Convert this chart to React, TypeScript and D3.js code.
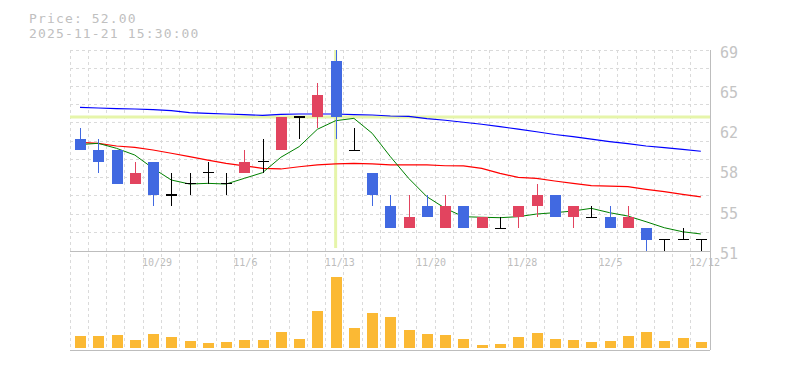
import React from "react";
import * as d3 from "d3";

const dates = [
  "10/23","10/24","10/27","10/28","10/29","10/30","10/31","11/4","11/5","11/6",
  "11/7","11/10","11/11","11/12","11/13","11/14","11/17","11/18","11/19","11/20",
  "11/21","11/25","11/26","11/27","11/28","12/1","12/2","12/3","12/4","12/5",
  "12/8","12/9","12/10","12/11","12/12",
];
const opens  = [61,60,60,57,59,56,57,58,57,58,59,60,63,63,68,60,58,55,53,55,53,55,53,53,54,55,56,54,54,54,53,53,52,52,52];
const highs  = [62,61,60,59,59,58,58,59,58,60,61,63,63,66,69,62,58,56,56,56,56,55,54,54,55,57,56,55,55,55,55,53,52,53,52];
const lows   = [60,58,57,57,55,55,56,57,56,58,58,60,61,62,61,60,55,53,53,54,53,53,53,53,53,54,54,53,54,53,53,51,51,52,51];
const closes = [60,59,57,58,56,56,57,58,57,59,59,63,63,65,63,60,56,53,54,54,55,53,54,53,55,56,54,55,54,53,54,52,52,52,52];
const volumes = [12,12,13,8,14,11,7,5,6,8,8,16,9,37,71,20,35,31,18,14,13,9,3,4,11,15,9,8,6,7,12,16,7,10,6];

const ma5 = [60.52,60.63,60.18,59.58,58.39,57.34,56.98,57.04,56.98,57.49,58.0,59.38,60.33,61.89,62.66,62.87,61.53,59.43,57.49,55.84,54.8,54.05,54.0,53.96,54.05,54.29,54.41,54.56,54.8,54.41,54.11,53.6,53.06,52.7,52.5];
const ma25 = [60.72,60.63,60.39,60.27,60.03,59.74,59.43,59.13,58.84,58.6,58.39,58.33,58.53,58.69,58.78,58.84,58.78,58.69,58.69,58.69,58.62,58.6,58.39,57.94,57.58,57.49,57.25,57.04,56.83,56.8,56.74,56.5,56.29,56.06,55.83];
const ma75 = [63.86,63.8,63.75,63.71,63.66,63.57,63.39,63.32,63.26,63.2,63.14,63.23,63.26,63.26,63.26,63.2,63.17,63.08,63.04,62.84,62.7,62.52,62.34,62.12,61.91,61.67,61.42,61.23,61.01,60.79,60.6,60.39,60.24,60.08,59.92];

const yTicks = [69, 65.4, 61.8, 58.2, 54.6, 51];
const xLabelIdx = [4, 9, 14, 19, 24, 29, 34];
const xLabels = ["10/29", "11/6", "11/13", "11/20", "11/28", "12/5", "12/12"];
const crossIdx = 14;
const crossPrice = 63;
const titlePrice = "Price: 52.00";
const titleTime = "2025-11-21 15:30:00";

const W = 785, H = 370;
const L = 70, R = 710, T = 50, PB = 250.7, VB = 350;
const MONO = "'DejaVu Sans Mono', monospace";

export default function App() {
  const x = d3.scaleBand<string>().domain(dates).range([L, R - 0.9]).paddingInner(0).paddingOuter(0);
  const cx = (i: number) => (x(dates[i]) as number) + 10;
  const y = d3.scaleLinear().domain([51, 69]).range([PB, T]);
  const vmax = d3.max(volumes) as number;
  const yv = d3.scaleLinear().domain([0, vmax * 1.352]).range([348, 252]);

  const hGrid = d3.range(0, 11).map((k) => T + k * ((PB - T) / 11));
  const vGrid = dates.map((d) => x(d) as number);

  const line = (vals: number[]) =>
    d3.line<number>().x((_, i) => cx(i)).y((v) => y(v))(vals) as string;

  const upC = "#e2445f", downC = "#4169e1";

  return (
    <svg width={W} height={H} style={{ position: "absolute", left: 0, top: 0 }}>
      <rect width={W} height={H} fill="#fff" />
      <text x={29} y={22.5} fontFamily={MONO} fontSize={13} letterSpacing={1.15} fill="#c0c0c0">{titlePrice}</text>
      <text x={29} y={37.5} fontFamily={MONO} fontSize={13} letterSpacing={1.15} fill="#c0c0c0">{titleTime}</text>

      {/* grid */}
      <g stroke="#dadada" strokeWidth={1} strokeDasharray="3,3" shapeRendering="crispEdges">
        {hGrid.map((gy, i) => (
          <line key={"h" + i} x1={L} x2={R} y1={gy} y2={gy} />
        ))}
        {vGrid.map((gx, i) => (
          <line key={"v" + i} x1={gx} x2={gx} y1={T} y2={VB} />
        ))}
      </g>

      {/* crosshair */}
      <line x1={L} x2={R} y1={y(crossPrice)} y2={y(crossPrice)} stroke="#e6f5aa" strokeWidth={3} />
      <line x1={cx(crossIdx)} x2={cx(crossIdx)} y1={T} y2={248} stroke="#e6f5aa" strokeWidth={3} />

      {/* borders */}
      <g stroke="#bdbdbd" strokeWidth={1} shapeRendering="crispEdges">
        <line x1={L} x2={R} y1={251} y2={251} />
        <line x1={L} x2={R} y1={VB} y2={VB} />
        <line x1={R} x2={R} y1={T} y2={VB} />
      </g>

      {/* moving averages */}
      <path d={line(ma75)} fill="none" stroke="#0000ff" strokeWidth={1.2} />
      <path d={line(ma25)} fill="none" stroke="#ff0000" strokeWidth={1.2} />
      <path d={line(ma5)} fill="none" stroke="#008000" strokeWidth={1} />

      {/* candles */}
      {dates.map((d, i) => {
        const o = opens[i], c = closes[i], h = highs[i], l = lows[i];
        const col = c > o ? upC : c < o ? downC : "#000";
        const xc = Math.round(cx(i)) + 0.5;
        const top = y(Math.max(o, c)), bot = y(Math.min(o, c));
        return (
          <g key={d} shapeRendering="crispEdges">
            <line x1={xc} x2={xc} y1={y(h)} y2={y(l)} stroke={col} strokeWidth={1} />
            {c !== o ? (
              <rect x={xc - 5.5} y={top} width={11} height={bot - top} fill={col} />
            ) : (
              <line x1={xc - 5.5} x2={xc + 5.5} y1={top} y2={top} stroke="#000" strokeWidth={1.2} />
            )}
          </g>
        );
      })}

      {/* volume */}
      {volumes.map((v, i) => (
        <rect key={"vol" + i} x={Math.round(cx(i)) - 5} y={yv(v)} width={11} height={yv(0) - yv(v)} fill="#fbb934" />
      ))}

      {/* x labels */}
      {xLabelIdx.map((idx, k) => (
        <text key={"xl" + k} x={cx(idx) - 11} y={266} fontFamily={MONO} fontSize={10} fill="#bdbdbd">
          {xLabels[k]}
        </text>
      ))}

      {/* y labels */}
      {yTicks.map((t, k) => (
        <text key={"yl" + k} x={720} y={y(t) + 8} fontFamily={MONO} fontSize={15} fill="#c4c4c4">
          {Math.round(t)}
        </text>
      ))}
    </svg>
  );
}
